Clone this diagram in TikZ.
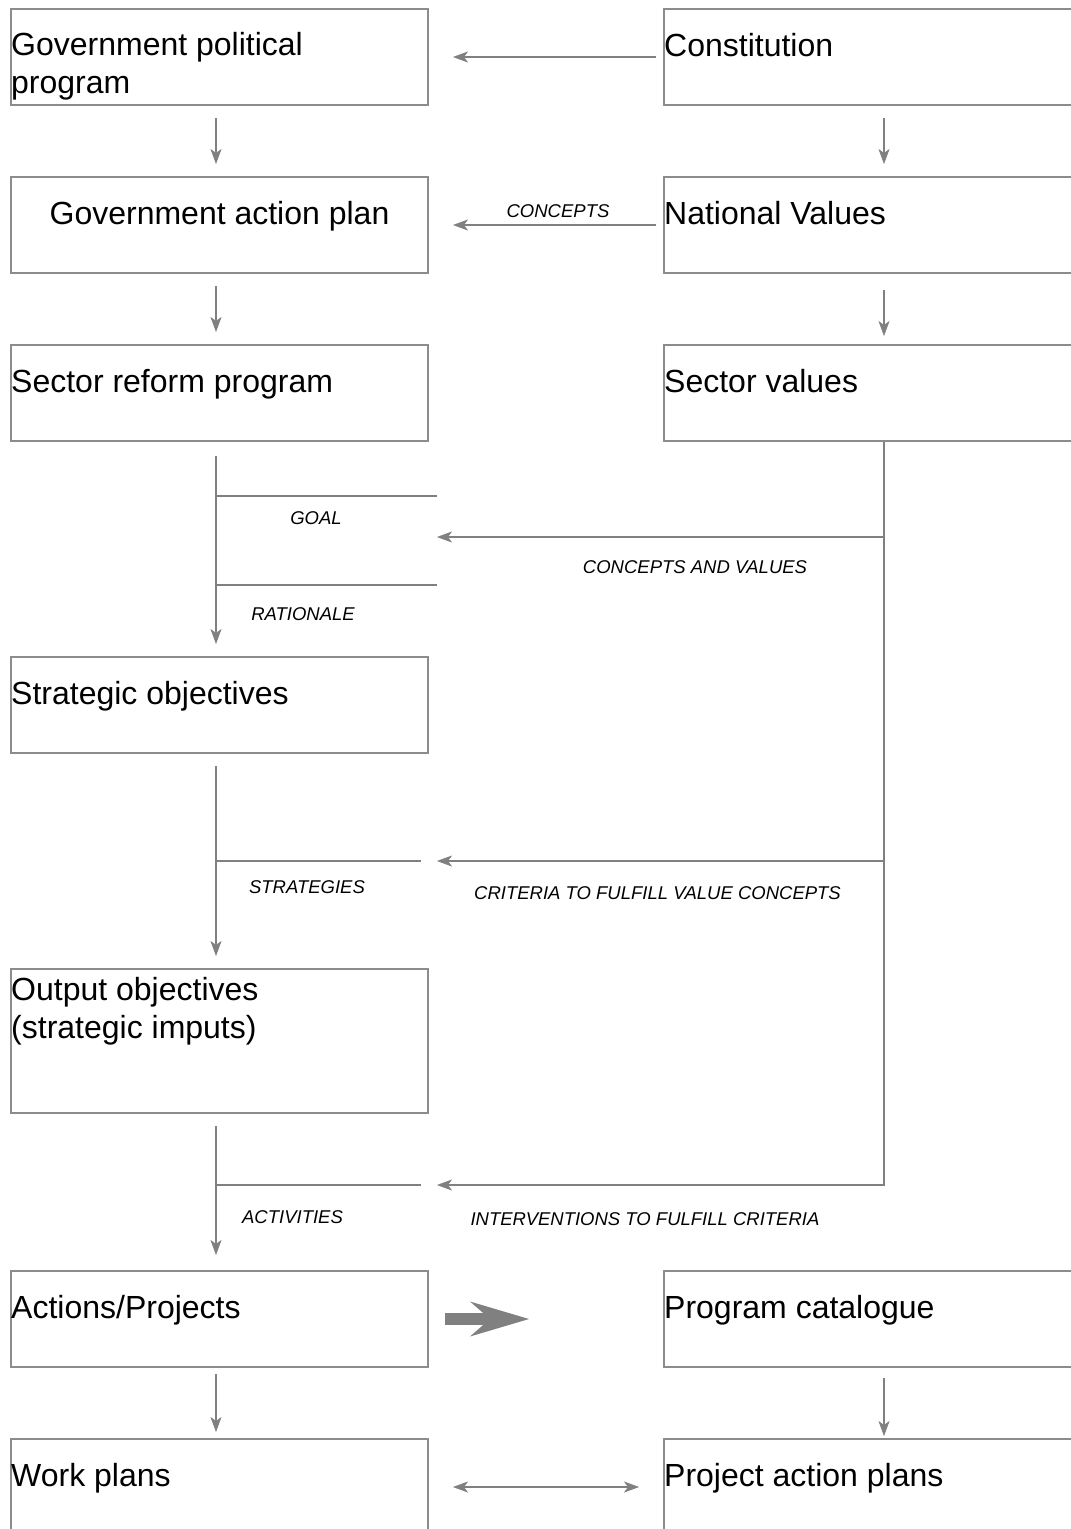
\documentclass[tikz,border=0pt]{standalone}
\usepackage{fontspec}
\setmainfont{Liberation Sans}
\usetikzlibrary{arrows.meta,positioning,calc}

\tikzset{
  vtip/.tip={Stealth[length=15pt,width=11pt,inset=4pt,line width=0.5pt]},
  box/.style={draw=black!45, line width=2pt, minimum width=417pt, minimum height=96pt, inner sep=0pt},
  rbox/.style={box, minimum width=440pt},
  boxtext/.style={anchor=base west, inner sep=0pt, align=left, font=\fontsize{32}{37.5}\selectfont},
  tag/.style={inner sep=0pt, font=\fontsize{18.5}{22}\selectfont\itshape},
  link/.style={draw=black!50, line width=1.8pt, -vtip},
  plain/.style={draw=black!50, line width=1.8pt},
  fat/.style={draw=black!50, line width=12pt, -{Stealth[length=59pt,width=35pt,inset=20pt,line width=0pt]}},
}

\begin{document}
\begin{tikzpicture}[x=1pt,y=-1pt]
  \useasboundingbox (0,0) rectangle (1071,1529);
  \clip (0,0) rectangle (1071,1529);

  \node[box] (gpp) at (219.5,57) {};
  \node[box] (gap) at (219.5,225) {};
  \node[box] (srp) at (219.5,393) {};
  \node[box] (so) at (219.5,705) {};
  \node[box, minimum height=144pt] (oo) at (219.5,1041) {};
  \node[box] (ap) at (219.5,1319) {};
  \node[box] (wp) at (219.5,1487) {};

  \node[rbox] (con) at (884,57) {};
  \node[rbox] (nv) at (884,225) {};
  \node[rbox] (sv) at (884,393) {};
  \node[rbox] (pc) at (884,1319) {};
  \node[rbox] (pap) at (884,1487) {};

  \node[boxtext] (gpp-t) at ($(gpp.north west)+(1,85)$) {Government political\\program};
  \node[boxtext, anchor=base] (gap-t) at ($(gap.north)+(0,48)$) {Government action plan};
  \node[boxtext] (srp-t) at ($(srp.north west)+(1,48)$) {Sector reform program};
  \node[boxtext] (so-t) at ($(so.north west)+(1,48)$) {Strategic objectives};
  \node[boxtext] (oo-t) at ($(oo.north west)+(1,70)$) {Output objectives\\(strategic imputs)};
  \node[boxtext] (ap-t) at ($(ap.north west)+(1,48)$) {Actions/Projects};
  \node[boxtext] (wp-t) at ($(wp.north west)+(1,48)$) {Work plans};
  \node[boxtext] (con-t) at ($(con.north west)+(1,48)$) {Constitution};
  \node[boxtext] (nv-t) at ($(nv.north west)+(1,48)$) {National Values};
  \node[boxtext] (sv-t) at ($(sv.north west)+(1,48)$) {Sector values};
  \node[boxtext] (pc-t) at ($(pc.north west)+(1,48)$) {Program catalogue};
  \node[boxtext] (pap-t) at ($(pap.north west)+(1,48)$) {Project action plans};

  \coordinate (lx) at (216,0);
  \coordinate (goal-r) at (437,496);
  \coordinate (rat-r) at (437,585);
  \coordinate (cv-tip) at (437,537);
  \coordinate (st-r) at (421,861);
  \coordinate (cr-tip) at (437,861);
  \coordinate (ac-r) at (421,1185);
  \coordinate (in-tip) at (437,1185);

  \draw[link, shorten <=7pt, shorten >=24pt] (con.west) -- (gpp.east);
  \draw[link, shorten <=7pt, shorten >=24pt] (nv.west) -- (gap.east);
  \node[tag] (concepts) at (558,211) {CONCEPTS};

  \draw[link, shorten <=12pt, shorten >=12pt] (lx |- gpp.south) -- (lx |- gap.north);
  \draw[link, shorten <=12pt, shorten >=12pt] (con.south) -- (nv.north);
  \draw[link, shorten <=12pt, shorten >=12pt] (lx |- gap.south) -- (lx |- srp.north);
  \draw[link, shorten <=16pt, shorten >=8pt] (nv.south) -- (sv.north);

  \draw[link, shorten <=14pt, shorten >=12pt] (lx |- srp.south) -- (lx |- so.north);
  \draw[plain] (lx |- goal-r) -- (goal-r);
  \draw[plain] (lx |- rat-r) -- (rat-r);
  \draw[link] (sv.south |- cv-tip) -- (cv-tip);
  \node[tag] (goal) at (316,518) {GOAL};
  \node[tag] (rationale) at (303,614) {RATIONALE};
  \node[tag] (cv) at (695,567) {CONCEPTS AND VALUES};

  \draw[link, shorten <=12pt, shorten >=12pt] (lx |- so.south) -- (lx |- oo.north);
  \draw[plain] (lx |- st-r) -- (st-r);
  \draw[link] (sv.south |- cr-tip) -- (cr-tip);
  \node[tag] (strategies) at (307,887) {STRATEGIES};
  \node[tag] (criteria) at (657.5,893) {CRITERIA TO FULFILL VALUE CONCEPTS};

  \draw[link, shorten <=12pt, shorten >=15pt] (lx |- oo.south) -- (lx |- ap.north);
  \draw[plain] (lx |- ac-r) -- (ac-r);
  \draw[link] (sv.south) |- (in-tip);
  \node[tag] (activities) at (292.5,1217) {ACTIVITIES};
  \node[tag] (interventions) at (645,1219) {INTERVENTIONS TO FULFILL CRITERIA};

  \draw[fat, shorten <=16pt, shorten >=134pt] (ap.east) -- (pc.west);
  \draw[link, shorten <=6pt, shorten >=6pt] (lx |- ap.south) -- (lx |- wp.north);
  \draw[link, shorten <=10pt, shorten >=2pt] (pc.south) -- (pap.north);
  \draw[link, vtip-vtip, shorten <=24pt, shorten >=24pt] (wp.east) -- (pap.west);
\end{tikzpicture}
\end{document}
